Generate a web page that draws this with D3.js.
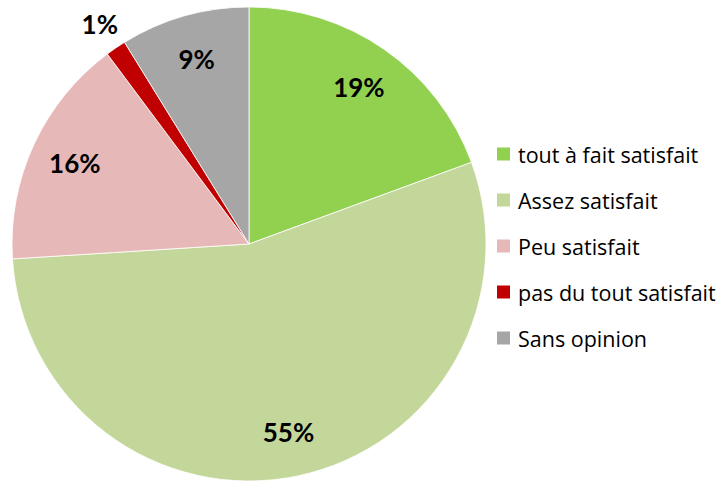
<!DOCTYPE html>
<html>
<head>
<meta charset="utf-8">
<script src="https://cdn.jsdelivr.net/npm/d3@7"></script>
<style>
  html, body { margin: 0; padding: 0; background: #ffffff; }
  svg { display: block; }
</style>
</head>
<body>
<svg id="chart" width="726" height="482"></svg>
<script>
const categories = ["tout à fait satisfait", "Assez satisfait", "Peu satisfait", "pas du tout satisfait", "Sans opinion"];
const values = [19.4, 54.6, 15.8, 1.4, 8.8];
const colors = ["#92D050", "#C4D79B", "#E6B9B8", "#C00000", "#A6A6A6"];

const svg = d3.select("#chart");
const cx = 249, cy = 244, r = 237;

const data = categories.map((c, i) => ({ name: c, value: values[i], color: colors[i] }));
const pie = d3.pie().value(d => d.value).sort(null);
const arcs = pie(data);

const arc = d3.arc().innerRadius(0).outerRadius(r);
const labelArc = d3.arc().innerRadius(r * 0.81).outerRadius(r * 0.81);
const outerLabelArc = d3.arc().innerRadius(r * 1.12).outerRadius(r * 1.12);

const g = svg.append("g").attr("transform", `translate(${cx},${cy})`);

g.selectAll("path.slice")
  .data(arcs)
  .join("path")
  .attr("class", "slice")
  .attr("d", arc)
  .attr("fill", d => d.data.color)
  .attr("stroke", "#ffffff")
  .attr("stroke-width", 0.8);

g.selectAll("text.lbl")
  .data(arcs)
  .join("text")
  .attr("class", "lbl")
  .attr("transform", d => {
    const small = (d.endAngle - d.startAngle) < 0.2;
    const p = (small ? outerLabelArc : labelArc).centroid(d);
    return `translate(${p[0]},${p[1]})`;
  })
  .attr("text-anchor", "middle")
  .attr("dominant-baseline", "central")
  .attr("font-family", "Lato, 'Open Sans', sans-serif")
  .attr("font-weight", "bold")
  .attr("font-size", 26)
  .attr("fill", "#000000")
  .text(d => Math.round(d.data.value) + "%");

// legend
const legend = svg.append("g").attr("transform", "translate(497,154)");
const rows = legend.selectAll("g.row")
  .data(data)
  .join("g")
  .attr("class", "row")
  .attr("transform", (d, i) => `translate(0,${i * 46})`);

rows.append("rect")
  .attr("x", 0).attr("y", -6.5)
  .attr("width", 13).attr("height", 13)
  .attr("fill", d => d.color);

rows.append("text")
  .attr("x", 21).attr("y", 0)
  .attr("dominant-baseline", "central")
  .attr("font-family", "'Open Sans', Lato, sans-serif")
  .attr("font-size", 21.5)
  .attr("fill", "#000000")
  .text(d => d.name);
</script>
</body>
</html>
